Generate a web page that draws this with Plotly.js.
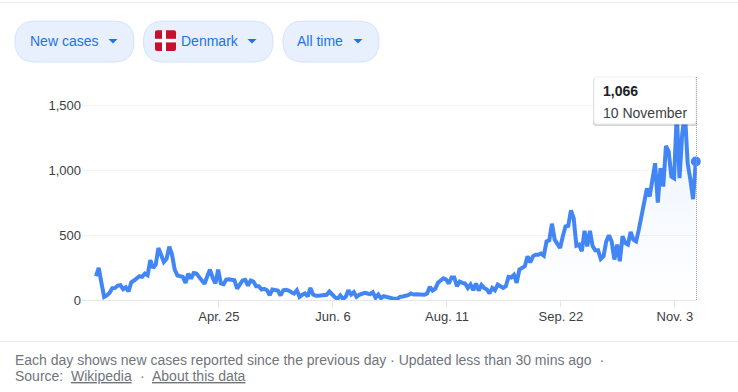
<!DOCTYPE html>
<html>
<head>
<meta charset="utf-8">
<script src="https://cdn.plot.ly/plotly-3.0.1.min.js"></script>
<style>html,body{margin:0;padding:0;background:#fff}#c{width:738px;height:392px}</style>
</head>
<body>
<div id="c"></div>
<script>
// Daily new cases (one value per day, oldest first)
const newCases = [
183,247,132,24,35,55,91,93,111,114,83,98,65,137,150,170,183,178,203,190,306,247,272,400,336,293,316,410,349,234,188,183,178,132,203,165,208,203,178,144,124,183,234,170,127,234,127,121,157,160,157,152,88,119,150,155,111,150,142,106,106,81,86,75,37,81,75,73,35,
75,78,73,60,50,75,24,40,50,27,93,42,32,32,35,37,40,65,42,22,9,35,9,24,75,42,60,24,40,50,55,50,45,60,17,42,14,29,24,17,9,9,9,24,27,32,37,50,42,45,45,40,40,50,101,73,86,132,155,167,157,127,173,173,106,142,132,127,93,119,75,127,73,116,93,81,50,93,75,119,
106,93,106,178,173,193,132,234,247,260,336,290,336,349,349,357,341,451,459,587,464,426,400,490,566,571,690,630,418,426,375,533,413,533,413,382,382,316,336,451,497,451,311,426,298,490,439,426,523,464,451,541,643,771,858,796,950,1052,750,1014,873,1185,1142,950,937,1436,937,1282,1436,1052,925,776,1066
];
const dayIndex = newCases.map((_, i) => i);
const tickDays = [45.3, 87.3, 129.3, 171.3, 213.3];
const tickLabels = ['Apr. 25', 'Jun. 6', 'Aug. 11', 'Sep. 22', 'Nov. 3'];
const yTicks = [0, 500, 1000, 1500];
const pills = ['New cases', 'Denmark', 'All time'];
const tipValue = '1,066';
const tipDate = '10 November';

const W = 738, H = 392;
const L = 82, R = 697, T = 85, B = 300.5;
const FONT = '"Liberation Sans", Arial, sans-serif';
const px = x => (x - L) / (R - L);
const py = y => (B - y) / (B - T);

function roundRect(x0, y0, x1, y1, r) {
  const X = v => px(v), Y = v => py(v);
  return {
    type: 'path', xref: 'paper', yref: 'paper', layer: 'above',
    path: `M${X(x0 + r)},${Y(y0)} L${X(x1 - r)},${Y(y0)} Q${X(x1)},${Y(y0)} ${X(x1)},${Y(y0 + r)} L${X(x1)},${Y(y1 - r)} Q${X(x1)},${Y(y1)} ${X(x1 - r)},${Y(y1)} L${X(x0 + r)},${Y(y1)} Q${X(x0)},${Y(y1)} ${X(x0)},${Y(y1 - r)} L${X(x0)},${Y(y0 + r)} Q${X(x0)},${Y(y0)} ${X(x0 + r)},${Y(y0)} Z`
  };
}
const box = (x0, y0, x1, y1, color) => ({
  type: 'rect', xref: 'paper', yref: 'paper', layer: 'above',
  x0: px(x0), x1: px(x1), y0: py(y0), y1: py(y1),
  fillcolor: color, line: { width: 0 }
});
const hline = (x0, x1, y, color) => ({
  type: 'line', xref: 'paper', yref: 'paper', layer: 'above',
  x0: px(x0), x1: px(x1), y0: py(y), y1: py(y), line: { color, width: 1 }
});
const caret = (cx, cy) => ({
  type: 'path', xref: 'paper', yref: 'paper', layer: 'above',
  path: `M${px(cx - 4.5)},${py(cy - 2)} L${px(cx + 4.5)},${py(cy - 2)} L${px(cx)},${py(cy + 2.5)} Z`,
  fillcolor: '#1a73e8', line: { width: 0 }
});
const label = (text, x, y, size, color, extra) => Object.assign({
  text, xref: 'paper', yref: 'paper', x: px(x), y: py(y),
  xanchor: 'left', yanchor: 'middle', showarrow: false,
  font: { family: FONT, size, color }, borderpad: 0, borderwidth: 0
}, extra || {});

const pillShape = (x0, x1) => Object.assign(roundRect(x0, 21, x1, 62, 20.5), {
  fillcolor: '#e8f0fe', line: { color: '#d2e3fc', width: 1 }
});

const shapes = [
  hline(0, 738, 2, '#e8eaed'),
  hline(0, 738, 342, '#e8eaed'),
  pillShape(15, 134), pillShape(143.5, 273), pillShape(283, 379),
  caret(113, 41), caret(252, 41), caret(358, 41),
  Object.assign(roundRect(155, 30, 176, 51, 2), { fillcolor: '#c8102e', line: { width: 0 } }),
  box(162, 30, 166, 51, '#ffffff'),
  box(155, 38.7, 176, 42.3, '#ffffff'),
  { type: 'line', xref: 'paper', yref: 'paper', layer: 'above',
    x0: px(696.5), x1: px(696.5), y0: py(77), y1: py(300.5),
    line: { color: '#9aa0a6', width: 1, dash: '1px,1px' } },
  Object.assign(roundRect(593, 78, 697, 126, 3), { fillcolor: 'rgba(60,64,67,0.22)', line: { width: 0 } }),
  Object.assign(roundRect(594, 77, 696, 124, 3), { fillcolor: '#ffffff', line: { color: '#eeeeee', width: 1 } })
];

const annotations = [
  label(pills[0], 30, 41, 14, '#1a73e8'),
  label(pills[1], 181, 41, 14, '#1a73e8'),
  label(pills[2], 297, 41, 14, '#1a73e8'),
  label('<b>' + tipValue + '</b>', 603, 91, 14, '#202124'),
  label(tipDate, 603, 113, 14, '#3c4043'),
  label('Each day shows new cases reported since the previous day · Updated less than 30 mins ago  ·', 15, 360.5, 14, '#70757a'),
  label('Source:', 15, 376.5, 14, '#70757a'),
  label('<span style="text-decoration:underline">Wikipedia</span>', 71, 376.5, 14, '#70757a'),
  label('·', 140, 376.5, 14, '#70757a'),
  label('<span style="text-decoration:underline">About this data</span>', 152, 376.5, 14, '#70757a')
];

const traces = [
  {
    x: dayIndex, y: newCases, type: 'scatter', mode: 'lines',
    line: { color: '#4285f4', width: 4, shape: 'linear' },
    fill: 'tozeroy',
    fillgradient: {
      type: 'vertical',
      colorscale: [[0, 'rgba(66,133,244,0)'], [1, 'rgba(66,133,244,0.10)']]
    },
    hoverinfo: 'skip', cliponaxis: true
  },
  {
    x: [dayIndex[dayIndex.length - 1]], y: [newCases[newCases.length - 1]],
    type: 'scatter', mode: 'markers',
    marker: { color: '#4285f4', size: 10 }, hoverinfo: 'skip', cliponaxis: false
  }
];

const layout = {
  width: W, height: H, showlegend: false,
  paper_bgcolor: '#ffffff', plot_bgcolor: '#ffffff',
  margin: { l: L, r: W - R, t: T, b: H - B, pad: 0 },
  font: { family: FONT, size: 13, color: '#3c4043' },
  xaxis: {
    range: [-5.16, 221.44], tickmode: 'array', tickvals: tickDays, ticktext: tickLabels,
    showgrid: false, zeroline: false, showline: true, linecolor: '#e6e6e6', linewidth: 1,
    ticks: 'outside', ticklen: 6, tickcolor: '#e6e6e6', tickwidth: 1, ticklabelstandoff: -2,
    tickfont: { family: FONT, size: 13, color: '#3c4043' }, fixedrange: true
  },
  yaxis: {
    range: [0, 1654], tickmode: 'array', tickvals: yTicks, tickformat: ',d',
    showgrid: true, gridcolor: '#f1f3f4', gridwidth: 1, zeroline: false,
    ticks: '', tickfont: { family: FONT, size: 13, color: '#3c4043' }, fixedrange: true
  },
  shapes, annotations
};

Plotly.newPlot('c', traces, layout, { displayModeBar: false, staticPlot: true });
</script>
</body>
</html>
